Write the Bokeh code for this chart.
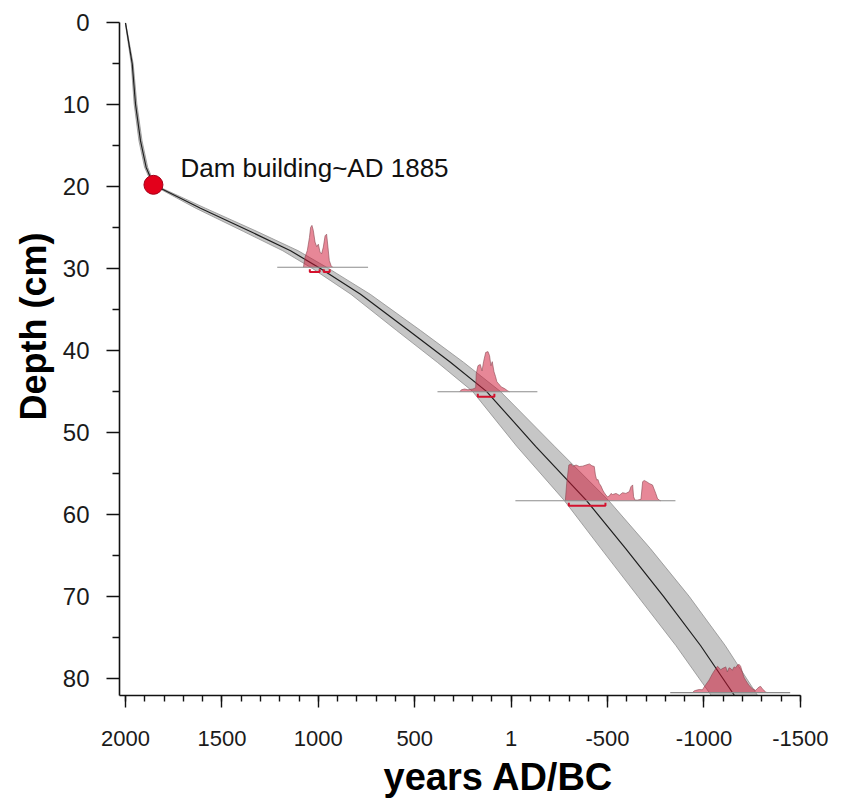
from bokeh.plotting import figure
from bokeh.models import Range1d, FixedTicker, Title
from bokeh.core.properties import value
from bokeh.embed import file_html
from bokeh.resources import INLINE

# ---------------- data ----------------
# age-depth model (depth in cm, mean age in years AD/BC, half-width of the grey envelope)
model_depth = [0.0, 5.0, 9.9, 14.4, 17.6, 19.75, 22.6, 25.45, 27.8, 29.95, 33.1, 37.5,
               41.4, 44.95, 51.65, 58.25, 64.1, 69.95, 75.95, 82.05]
model_mean = [2000, 1965, 1948, 1922, 1893, 1855, 1611, 1352, 1144, 989, 781, 533,
              315, 128, -127, -390, -593, -790, -982, -1158]
model_halfwidth = [1, 5, 7, 8, 8, 6, 25, 35, 40, 42, 50, 62, 68, 72, 98, 115, 128, 133, 128, 120]

# dam building marker
dam_year = 1855
dam_depth = 19.75
dam_label = "Dam building~AD 1885"

# calibrated dates: depth, full calibrated range, 95% ranges, density curves
date_depth = [29.8, 45.0, 58.3, 81.7]
date_range_old = [1213, 382, -22, -825]
date_range_young = [742, -136, -852, -1447]
date_hpd = [
    [(1044, 993), (972, 941)],
    [(173, 87)],
    [(-299, -489)],
    [],
]
date_peak_cm = [5.1, 4.9, 4.5, 3.45]

dens1_year = [1077, 1069, 1057, 1046, 1040, 1033, 1026, 1017, 1008, 1000, 991, 983, 974,
              965, 957, 950, 943, 934, 926]
dens1_val = [0.0, 0.24, 0.40, 0.71, 0.95, 1.0, 0.88, 0.60, 0.49, 0.55, 0.36, 0.32, 0.48,
             0.75, 0.79, 0.48, 0.16, 0.04, 0.0]

dens2_year = [267, 258, 241, 224, 198, 184, 181, 172, 160, 151, 143, 132, 120, 112, 105,
              98, 89, 81, 74, 65, 51, 34, 17, 8]
dens2_val = [0.0, 0.05, 0.07, 0.05, 0.07, 0.10, 0.45, 0.65, 0.68, 0.52, 0.75, 0.98, 1.0,
             0.90, 0.65, 0.75, 0.50, 0.38, 0.25, 0.20, 0.12, 0.08, 0.02, 0.0]

dens3_year = [-281, -288, -299, -311, -319, -337, -354, -371, -388, -406, -419, -431, -437,
              -444, -450, -457, -466, -475, -483, -492, -500, -509, -518, -526, -544, -561,
              -578, -595, -613, -621, -630, -635, -642, -656, -673, -682, -690, -702, -716,
              -733, -750, -759, -768, -776]
dens3_val = [0.0, 0.47, 0.97, 1.0, 0.94, 0.97, 0.93, 0.94, 0.97, 1.0, 0.95, 0.93, 0.70,
             0.56, 0.58, 0.47, 0.40, 0.29, 0.22, 0.15, 0.11, 0.13, 0.20, 0.17, 0.20, 0.15,
             0.22, 0.20, 0.25, 0.38, 0.43, 0.11, 0.02, 0.02, 0.04, 0.52, 0.55, 0.52, 0.47,
             0.43, 0.20, 0.06, 0.02, 0.0]

dens4_year = [-940, -949, -957, -975, -992, -1001, -1026, -1044, -1061, -1070, -1078, -1087,
              -1095, -1113, -1121, -1130, -1139, -1147, -1156, -1164, -1173, -1182, -1190,
              -1199, -1207, -1216, -1233, -1251, -1268, -1285, -1294, -1302, -1311, -1320,
              -1328]
dens4_val = [0.0, 0.06, 0.08, 0.11, 0.10, 0.20, 0.44, 0.67, 0.85, 0.93, 0.88, 0.81, 0.85,
             0.91, 0.73, 0.88, 0.85, 0.79, 0.91, 0.88, 0.97, 1.0, 0.93, 0.73, 0.55, 0.44,
             0.26, 0.14, 0.08, 0.20, 0.22, 0.14, 0.08, 0.02, 0.0]

dens_years = [dens1_year, dens2_year, dens3_year, dens4_year]
dens_vals = [dens1_val, dens2_val, dens3_val, dens4_val]

# axis ticks and titles
x_ticks = [2000, 1500, 1000, 500, 0, -500, -1000, -1500]
x_tick_labels = ["2000", "1500", "1000", "500", "1", "-500", "-1000", "-1500"]
y_ticks = [0, 10, 20, 30, 40, 50, 60, 70, 80]
y_tick_labels = ["0", "10", "20", "30", "40", "50", "60", "70", "80"]
x_title = "years AD/BC"
y_title = "Depth (cm)"

# ---------------- figure ----------------
p = figure(width=843, height=807,
           x_range=Range1d(2031, -1500.5), y_range=Range1d(82.05, -0.05),
           output_backend="svg", toolbar_location=None,
           min_border_left=119, min_border_right=43,
           min_border_top=22, min_border_bottom=112)
p.grid.visible = False
p.outline_line_color = None
p.background_fill_color = "white"
p.border_fill_color = "white"

# grey envelope
lower = [m - h for m, h in zip(model_mean, model_halfwidth)]
upper = [m + h for m, h in zip(model_mean, model_halfwidth)]
p.harea(y=model_depth, x1=lower, x2=upper, fill_color="#c6c6c6", fill_alpha=1.0)
p.line(lower, model_depth, line_color="#8f8f8f", line_width=0.8)
p.line(upper, model_depth, line_color="#8f8f8f", line_width=0.8)
# mean line
p.line(model_mean, model_depth, line_color="#1e1e1e", line_width=1.2)

# calibrated distributions
bracket_offset = 0.6
bracket_tick = 0.35
for d, yrs, vals, pk, old, young, hpd in zip(date_depth, dens_years, dens_vals,
                                             date_peak_cm, date_range_old,
                                             date_range_young, date_hpd):
    top = [d - v * pk for v in vals]
    px = list(yrs) + list(reversed(yrs))
    py = top + [d] * len(yrs)
    p.patch(px, py, fill_color="#d01030", fill_alpha=0.5, line_color=None)
    p.line(yrs, top, line_color="#8a4650", line_width=0.8, line_alpha=0.75)
    p.line([old, young], [d, d], line_color="#8c8c8c", line_width=1.1)
    for a, b in hpd:
        yb = d + bracket_offset
        p.line([a, a, b, b], [yb - bracket_tick, yb, yb, yb - bracket_tick],
               line_color="#d4112d", line_width=2)

# dam building point
p.scatter([dam_year], [dam_depth], size=19, fill_color="#e3001b",
          line_color="#a5001a", line_width=1)
p.text([dam_year], [dam_depth], text=[dam_label], x_offset=27, y_offset=-17,
       text_font=value("Liberation Sans"), text_font_size="26px",
       text_baseline="middle", text_align="left", text_color="#111111")

# axes
xa = p.xaxis[0]
xa.ticker = FixedTicker(ticks=x_ticks, minor_ticks=list(range(2000, -1501, -100)))
xa.major_label_overrides = {t: l for t, l in zip(x_ticks, x_tick_labels)}
xa.major_tick_out = 12
xa.minor_tick_out = 6
xa.major_label_standoff = 23

ya = p.yaxis[0]
ya.ticker = FixedTicker(ticks=y_ticks, minor_ticks=[5, 15, 25, 35, 45, 55, 65, 75])
ya.major_label_overrides = {t: l for t, l in zip(y_ticks, y_tick_labels)}
ya.major_tick_out = 13
ya.minor_tick_out = 7
ya.major_label_standoff = 17

for ax in (xa, ya):
    ax.axis_line_width = 1.6
    ax.axis_line_color = "#111111"
    ax.major_tick_line_width = 1.4
    ax.minor_tick_line_width = 1.4
    ax.major_tick_line_color = "#111111"
    ax.minor_tick_line_color = "#111111"
    ax.major_tick_in = 0
    ax.minor_tick_in = 0
    ax.major_label_text_font = "Liberation Sans"
    ax.major_label_text_color = "#1a1a1a"
xa.major_label_text_font_size = "22px"
ya.major_label_text_font_size = "24px"

# axis titles as side-panel titles, offset along the frame
p.add_layout(Title(text=x_title, align="left", offset=264,
                   text_font="Liberation Sans", text_font_style="bold",
                   text_font_size="38px", text_color="#000000", standoff=11), "below")
p.add_layout(Title(text=y_title, align="left", offset=275,
                   text_font="Liberation Sans", text_font_style="bold",
                   text_font_size="36px", text_color="#000000", standoff=11), "left")

open("out.html", "w").write(file_html(p, INLINE))
